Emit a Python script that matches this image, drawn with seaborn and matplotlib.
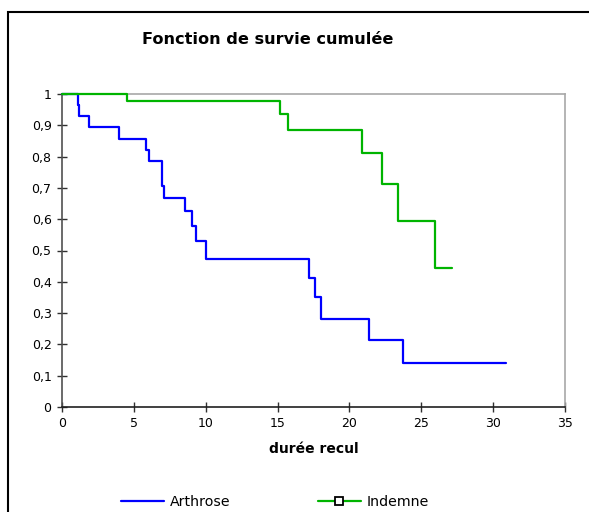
import numpy as np
import pandas as pd
import matplotlib
matplotlib.use("Agg")
import matplotlib.pyplot as plt
from matplotlib.lines import Line2D
from matplotlib.patches import Rectangle
import seaborn as sns

# Kaplan-Meier steps
arthrose_t = [0, 1.08, 1.2, 1.9, 3.97, 5.85, 6.08, 6.98, 7.07, 8.54, 9.02, 9.3,
              10.02, 17.17, 17.63, 18.02, 21.39, 23.7, 30.87]
arthrose_s = [1, 0.964, 0.929, 0.893, 0.857, 0.821, 0.786, 0.707, 0.667, 0.627,
              0.579, 0.531, 0.472, 0.412, 0.352, 0.282, 0.214, 0.141, 0.141]
indemne_t = [0, 4.55, 15.17, 15.7, 20.85, 22.27, 23.36, 25.98, 27.16]
indemne_s = [1, 0.978, 0.935, 0.886, 0.813, 0.711, 0.593, 0.443, 0.443]

x_ticks = [0, 5, 10, 15, 20, 25, 30, 35]
y_ticks = [0, 0.1, 0.2, 0.3, 0.4, 0.5, 0.6, 0.7, 0.8, 0.9, 1]
y_labels = ["0", "0,1", "0,2", "0,3", "0,4", "0,5", "0,6", "0,7", "0,8", "0,9", "1"]

blue, green = "#0000FF", "#00B400"

df = pd.concat([
    pd.DataFrame({"t": arthrose_t, "s": arthrose_s, "groupe": "Arthrose"}),
    pd.DataFrame({"t": indemne_t, "s": indemne_s, "groupe": "Indemne"}),
])

sns.set_style("white")
plt.rcParams["font.family"] = ["DejaVu Sans"]
plt.rcParams["text.color"] = "black"
plt.rcParams["xtick.color"] = "black"
plt.rcParams["ytick.color"] = "black"

fig = plt.figure(figsize=(5.89, 5.12), dpi=100)
ax = fig.add_axes([62 / 589, 1 - 407 / 512, 503 / 589, 313 / 512])

sns.lineplot(data=df, x="t", y="s", hue="groupe", palette={"Arthrose": blue, "Indemne": green},
             estimator=None, drawstyle="steps-post", linewidth=1.6, legend=False, ax=ax)
for ln in ax.lines:
    ln.set_zorder(3)
    ln.set_clip_on(False)

ax.set_xlim(0, 35)
ax.set_ylim(0, 1)
ax.set_xticks(x_ticks)
ax.set_xticklabels([str(v) for v in x_ticks], fontsize=9)
ax.set_yticks(y_ticks)
ax.set_yticklabels(y_labels, fontsize=9)
ax.tick_params(bottom=True, left=True, direction="inout", length=7, width=1,
               color="#303030", labelcolor="black", pad=4)
ax.set_xlabel("durée recul", fontsize=10, fontweight="bold", labelpad=8, color="black")
ax.set_ylabel("")

for side in ["top", "right"]:
    ax.spines[side].set_color("#A8A8A8")
    ax.spines[side].set_linewidth(1.2)
ax.spines["left"].set_color("#505050")
ax.spines["bottom"].set_color("#202020")
ax.spines["left"].set_linewidth(1.2)
ax.spines["bottom"].set_linewidth(1.2)

fig.text(268 / 589, 1 - 40 / 512, "Fonction de survie cumulée", ha="center", va="center",
         fontsize=11.6, fontweight="bold", color="black")

handles = [
    Line2D([], [], color=blue, lw=1.6),
    Line2D([], [], color=green, lw=1.6, marker="s", markersize=6,
           markerfacecolor="white", markeredgecolor="black", markeredgewidth=1.3),
]
fig.legend(handles, ["Arthrose", "Indemne"], ncol=2, loc="center",
           bbox_to_anchor=(275 / 589, 1 - 502 / 512), frameon=False, fontsize=10.2,
           handlelength=3.0, handletextpad=0.4, columnspacing=6.2, labelcolor="black")

fig.patches.append(Rectangle((8 / 589, -0.2), 1.2, 1.2 - 12 / 512, transform=fig.transFigure,
                             fill=False, edgecolor="black", linewidth=1.5))

fig.savefig("out.png", dpi=100)
